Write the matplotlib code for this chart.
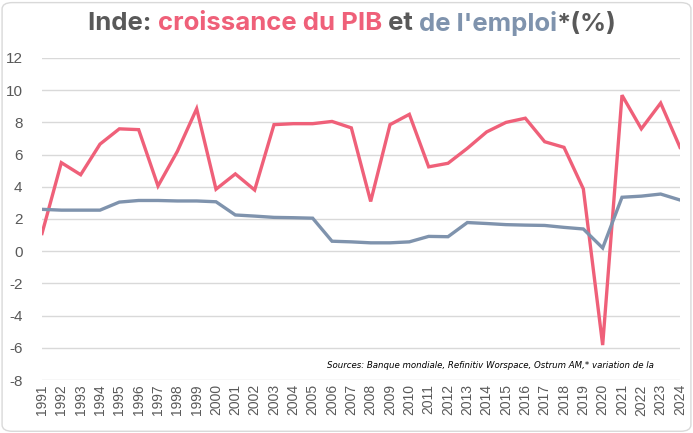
import matplotlib
matplotlib.use("Agg")
import matplotlib.pyplot as plt
from matplotlib.patches import FancyBboxPatch

plt.rcParams["axes.unicode_minus"] = False
plt.rcParams["font.family"] = ["Liberation Sans", "DejaVu Sans"]

# Data
years = list(range(1991, 2025))
gdp = [1.1, 5.5, 4.75, 6.65, 7.6, 7.55, 4.05, 6.2, 8.85, 3.85,
       4.8, 3.8, 7.86, 7.92, 7.92, 8.06, 7.66, 3.09, 7.86, 8.5,
       5.24, 5.46, 6.39, 7.41, 8.0, 8.26, 6.8, 6.45, 3.87, -5.83,
       9.69, 7.6, 9.2, 6.45]
emploi = [2.6, 2.55, 2.55, 2.55, 3.05, 3.15, 3.15, 3.12, 3.12, 3.07,
          2.25, 2.18, 2.1, 2.08, 2.05, 0.62, 0.58, 0.52, 0.52, 0.58,
          0.92, 0.9, 1.78, 1.72, 1.65, 1.62, 1.6, 1.48, 1.38, 0.2,
          3.35, 3.42, 3.55, 3.18]

RED = "#EF6079"
BLUE = "#7F93AD"
DARK = "#595959"

fig = plt.figure(figsize=(6.93, 4.33), dpi=100)
ax = fig.add_axes([42 / 693, 1 - 380 / 433, 638 / 693, 322 / 433])

ax.plot(years, gdp, color=RED, lw=2.4, solid_joinstyle="miter")
ax.plot(years, emploi, color=BLUE, lw=2.4, solid_joinstyle="miter")

ax.set_xlim(1991, 2024)
ax.set_ylim(-8, 12)
ax.set_yticks(range(-8, 13, 2))
ax.set_xticks(years)
ax.set_xticklabels([str(y) for y in years], rotation=90, fontsize=10, color=DARK)
ax.tick_params(axis="y", labelsize=11, labelcolor=DARK, length=0, pad=14)
ax.tick_params(axis="x", length=0, pad=3)
ax.grid(axis="y", color="#D9D9D9", lw=1)
ax.set_axisbelow(True)
for s in ax.spines.values():
    s.set_visible(False)

fig.text(327 / 693, 1 - 365 / 433,
         "Sources: Banque mondiale, Refinitiv Worspace, Ostrum AM,* variation de la",
         ha="left", va="center", fontsize=6.2, style="italic", color="black",
         family="DejaVu Sans")

# Title in several colours
parts = [("Inde: ", DARK), ("croissance du PIB", RED), (" et ", DARK),
         ("de l'emploi", BLUE), ("*(%)", DARK)]
renderer = fig.canvas.get_renderer()
x = 88 / 693
for txt, col in parts:
    t = fig.text(x, 1 - 24 / 433, txt, color=col, fontsize=18.5, fontweight="bold",
                 va="center", ha="left", family="Inter")
    bb = t.get_window_extent(renderer=renderer)
    x += bb.width / fig.bbox.width

# Rounded border
fig.patches.append(FancyBboxPatch((0.003, 0.004), 0.994, 0.99,
                                  boxstyle="round,pad=0,rounding_size=0.015",
                                  transform=fig.transFigure, fill=False,
                                  ec="#D9D9D9", lw=1))

fig.savefig("out.png", dpi=100)
